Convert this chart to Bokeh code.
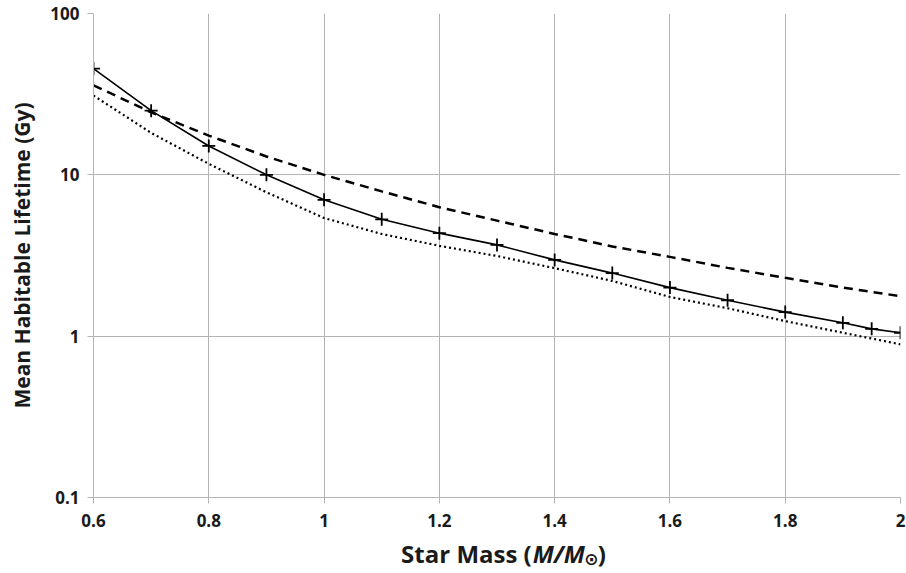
from bokeh.plotting import figure
from bokeh.embed import file_html
from bokeh.resources import INLINE
from bokeh.models import FixedTicker, Range1d
from bokeh.layouts import column
from bokeh.core.properties import value

# Data
mass = [0.6, 0.7, 0.8, 0.9, 1.0, 1.1, 1.2, 1.3, 1.4, 1.5, 1.6, 1.7, 1.8, 1.9, 1.95, 2.0]
life_solid = [45.5, 25.0, 15.1, 10.0, 7.0, 5.3, 4.35, 3.68, 2.97, 2.46, 2.0, 1.67, 1.41, 1.21, 1.11, 1.05]

mass_b = [0.6, 0.7, 0.8, 0.9, 1.0, 1.1, 1.2, 1.3, 1.4, 1.5, 1.6, 1.7, 1.8, 1.9, 2.0]
life_dashed = [35.9, 24.4, 17.5, 13.0, 10.0, 7.9, 6.3, 5.2, 4.3, 3.6, 3.1, 2.65, 2.3, 2.0, 1.77]
life_dotted = [31.0, 18.2, 11.7, 7.8, 5.4, 4.3, 3.63, 3.14, 2.64, 2.2, 1.75, 1.49, 1.24, 1.05, 0.89]

x_ticks = [0.6, 0.8, 1.0, 1.2, 1.4, 1.6, 1.8, 2.0]
x_tick_labels = ["0.6", "0.8", "1", "1.2", "1.4", "1.6", "1.8", "2"]
y_ticks = [0.1, 1, 10, 100]
y_tick_labels = ["0.1", "1", "10", "100"]

FONT = "Open Sans"
GRID = "#b4b4b4"
TXT = "#1a1a1a"

p = figure(width=906, height=530, y_axis_type="log",
           x_range=Range1d(0.6, 2.0), y_range=Range1d(0.1, 100),
           output_backend="svg", toolbar_location=None,
           min_border_left=93, min_border_right=6, min_border_top=13, min_border_bottom=33)
p.outline_line_color = None

p.xaxis.ticker = FixedTicker(ticks=x_ticks)
p.yaxis.ticker = FixedTicker(ticks=y_ticks)
p.xaxis.major_label_overrides = {t: l for t, l in zip(x_ticks, x_tick_labels)}
p.yaxis.major_label_overrides = {t: l for t, l in zip(y_ticks, y_tick_labels)}
p.xaxis.minor_tick_line_color = None
p.yaxis.minor_tick_line_color = None
for ax in (p.xaxis, p.yaxis):
    ax.axis_line_color = GRID
    ax.major_tick_line_color = GRID
    ax.major_tick_out = 6
    ax.major_tick_in = 0
    ax.major_label_text_font = FONT
    ax.major_label_text_font_style = "bold"
    ax.major_label_text_font_size = "17px"
    ax.major_label_text_color = TXT
    ax.axis_label_text_font = FONT
    ax.axis_label_text_font_style = "bold"
    ax.axis_label_text_font_size = "21px"
    ax.axis_label_text_color = TXT
p.xaxis.major_label_standoff = 10
p.yaxis.major_label_standoff = 8
p.yaxis.axis_label = "Mean Habitable Lifetime (Gy)"
p.yaxis.axis_label_standoff = 11

p.xgrid.grid_line_color = GRID
p.ygrid.grid_line_color = GRID
p.xgrid.ticker = FixedTicker(ticks=x_ticks)
p.ygrid.ticker = FixedTicker(ticks=y_ticks)

p.line(mass_b, life_dashed, line_color="black", line_width=2.5, line_dash="9 6")
p.line(mass_b, life_dotted, line_color="black", line_width=2.2, line_dash="2 3")
p.line(mass, life_solid, line_color="black", line_width=1.6)
p.scatter(mass, life_solid, marker="cross", size=13, line_color="black", line_width=1.8)

# x-axis title strip (pixel coordinates), with italic M and solar symbol
t = figure(width=906, height=43, x_range=Range1d(0, 906), y_range=Range1d(0, 43),
           output_backend="svg", toolbar_location=None,
           x_axis_location=None, y_axis_location=None,
           min_border_left=0, min_border_right=0, min_border_top=0, min_border_bottom=0)
t.outline_line_color = None
t.xgrid.visible = False
t.ygrid.visible = False

TS = "24px"
split_x = 492
base_y = 20
t.text(x=[split_x], y=[base_y], text=["Star Mass ("], text_align="right",
       text_baseline="alphabetic", text_font=value(FONT), text_font_style="bold",
       text_font_size=TS, text_color=TXT)
t.text(x=[split_x + 1], y=[base_y], text=["M/M"], text_align="left",
       text_baseline="alphabetic", text_font=value(FONT), text_font_style="bold italic",
       text_font_size=TS, text_color=TXT)
t.text(x=[split_x + 59], y=[base_y - 5], text=["\u2299"], text_align="left",
       text_baseline="alphabetic", text_font=value("DejaVu Sans"), text_font_style="bold",
       text_font_size="17px", text_color=TXT)
t.text(x=[split_x + 74], y=[base_y], text=[")"], text_align="left",
       text_baseline="alphabetic", text_font=value(FONT), text_font_style="bold",
       text_font_size=TS, text_color=TXT)

layout = column(p, t, spacing=0)
open("out.html", "w").write(file_html(layout, INLINE))
